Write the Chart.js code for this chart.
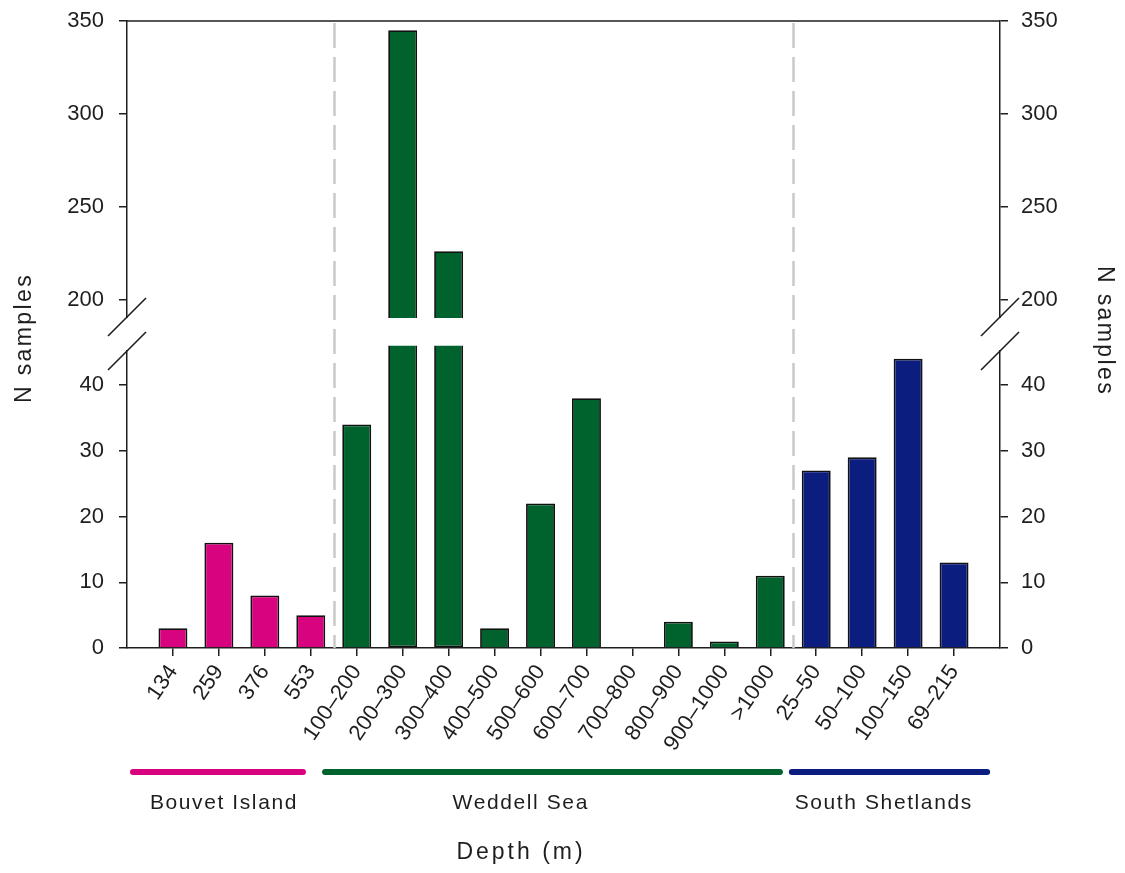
<!DOCTYPE html>
<html>
<head>
<meta charset="utf-8">
<title>N samples by depth</title>
<script src="https://cdn.jsdelivr.net/npm/chart.js@4.4.1/dist/chart.umd.min.js"></script>
<style>
  html, body { margin: 0; padding: 0; background: #ffffff; }
  #wrap { width: 1125px; height: 873px; }
</style>
</head>
<body>
<div id="wrap"><canvas id="c" width="1125" height="873"></canvas></div>
<script>
// Depth classes (m), in plotting order
const depthLabels = ['134', '259', '376', '553',
  '100–200', '200–300', '300–400', '400–500', '500–600', '600–700',
  '700–800', '800–900', '900–1000', '>1000',
  '25–50', '50–100', '100–150', '69–215'];

// Number of samples per depth class
const sampleCounts = [3, 16, 8, 5,
  34, 345, 226, 3, 22, 38, 0, 4, 1, 11,
  27, 29, 44, 13];

// Regions and how many depth classes belong to each
const regionNames = ['Bouvet Island', 'Weddell Sea', 'South Shetlands'];
const regionSizes = [4, 10, 4];

// Tick labels of the two axis segments
const lowerTicks = [0, 10, 20, 30, 40];
const upperTicks = [200, 250, 300, 350];

// Axis break: lower segment is cut at LOW_CUT, upper segment starts at HIGH_FLOOR
const LOW_CUT = 46;
const HIGH_FLOOR = 190;

// ---- styling ----
const FONT = '"Liberation Sans", Arial, Helvetica, sans-serif';
const INK = '#1e1e1e';
const regionColors = ['#d8037f', '#00632e', '#0c1d80'];

function regionOf(i) {
  let acc = 0;
  for (let r = 0; r < regionSizes.length; r++) {
    acc += regionSizes[r];
    if (i < acc) return r;
  }
  return regionSizes.length - 1;
}
const barColors = sampleCounts.map((_, i) => regionColors[regionOf(i)]);

const lowerBars = sampleCounts.map((v, i) => ({ x: i, y: v > 0 ? [0, Math.min(v, LOW_CUT)] : null }));
const upperBars = sampleCounts.map((v, i) => ({ x: i, y: v > HIGH_FLOOR ? [HIGH_FLOOR, v] : null }));

function yAxis(position, stack, weight, min, max, ticks, width, pad) {
  return {
    type: 'linear', position, stack, stackWeight: weight, min, max,
    afterBuildTicks: s => { s.ticks = ticks.map(v => ({ value: v })); },
    ticks: { padding: pad, color: INK, font: { family: FONT, size: 22 } },
    grid: { drawOnChartArea: false, drawTicks: true, tickLength: 8, color: INK, lineWidth: 1.5 },
    border: { color: INK, width: 1.5 },
    afterFit: s => {
      s.width = width;
      // the frame position is set by the layout padding alone
      s.paddingTop = 0;
      s.paddingBottom = 0;
    }
  };
}

// Decorations: region separators, frame top, axis breaks, region bars and titles
const decorations = {
  id: 'decorations',
  beforeDatasetsDraw(chart) {
    const { ctx, chartArea, scales: { x } } = chart;
    ctx.save();
    ctx.strokeStyle = '#c9c9c9';
    ctx.lineWidth = 2.5;
    ctx.setLineDash([25, 9]);
    let acc = 0;
    for (let r = 0; r < regionSizes.length - 1; r++) {
      acc += regionSizes[r];
      const px = Math.round(x.getPixelForValue(acc - 0.5)) + 0.5;
      ctx.beginPath();
      ctx.moveTo(px, chartArea.top + 2);
      ctx.lineTo(px, chartArea.bottom);
      ctx.stroke();
    }
    ctx.restore();
  },
  afterDraw(chart) {
    const { ctx, chartArea, scales } = chart;
    const { x, yHigh } = scales;
    ctx.save();

    // top edge of the frame
    ctx.strokeStyle = INK;
    ctx.lineWidth = 1.5;
    ctx.beginPath();
    ctx.moveTo(chartArea.left, chartArea.top);
    ctx.lineTo(chartArea.right, chartArea.top);
    ctx.stroke();

    // axis break marks on both vertical axes
    const yTop = yHigh.bottom - 1;
    const yBot = yHigh.bottom + 33;
    [chartArea.left, chartArea.right].forEach(ax => {
      ctx.fillStyle = '#ffffff';
      ctx.fillRect(ax - 4, yTop + 1, 8, yBot - yTop - 2);
      ctx.strokeStyle = INK;
      ctx.lineWidth = 1.6;
      [yTop, yBot].forEach(yc => {
        ctx.beginPath();
        ctx.moveTo(ax - 19, yc + 19);
        ctx.lineTo(ax + 19, yc - 19);
        ctx.stroke();
      });
    });

    // region bars under the axis
    const spans = [[-0.87, 2.83], [3.31, 13.21], [13.47, 17.72]];
    const labelAt = [1.11, 7.57, 15.47];
    const barY = 772;
    ctx.lineCap = 'round';
    ctx.lineWidth = 6;
    regionNames.forEach((name, r) => {
      ctx.strokeStyle = regionColors[r];
      ctx.beginPath();
      ctx.moveTo(x.getPixelForValue(spans[r][0]), barY);
      ctx.lineTo(x.getPixelForValue(spans[r][1]), barY);
      ctx.stroke();
      ctx.fillStyle = INK;
      ctx.font = '21px ' + FONT;
      ctx.letterSpacing = '1.6px';
      ctx.textAlign = 'center';
      ctx.textBaseline = 'middle';
      ctx.fillText(name, x.getPixelForValue(labelAt[r]), 803);
    });

    // axis titles
    ctx.fillStyle = INK;
    ctx.font = '23px ' + FONT;
    ctx.letterSpacing = '3px';
    ctx.textAlign = 'center';
    ctx.textBaseline = 'middle';
    ctx.fillText('Depth (m)', 521, 853);

    ctx.letterSpacing = '2.4px';
    ctx.save();
    ctx.translate(25, 338);
    ctx.rotate(-Math.PI / 2);
    ctx.fillText('N samples', 0, 0);
    ctx.restore();

    ctx.save();
    ctx.translate(1104, 331);
    ctx.rotate(Math.PI / 2);
    ctx.fillText('N samples', 0, 0);
    ctx.restore();

    ctx.restore();
  }
};

new Chart(document.getElementById('c'), {
  type: 'bar',
  data: {
    datasets: [
      {
        label: 'lower', yAxisID: 'yLow', data: lowerBars, grouped: false,
        backgroundColor: barColors, borderColor: '#111111', borderWidth: 1.8,
        borderSkipped: c => (sampleCounts[c.dataIndex] > LOW_CUT ? 'top' : 'start'),
        barPercentage: 0.63, categoryPercentage: 1
      },
      {
        label: 'upper', yAxisID: 'yHigh', data: upperBars, grouped: false,
        backgroundColor: barColors, borderColor: '#111111', borderWidth: 1.8,
        borderSkipped: 'bottom',
        barPercentage: 0.63, categoryPercentage: 1
      }
    ]
  },
  options: {
    responsive: false,
    devicePixelRatio: 1,
    animation: false,
    layout: { padding: { top: 21, left: 0, right: 0, bottom: 0 } },
    plugins: { legend: { display: false }, tooltip: { enabled: false } },
    scales: {
      x: {
        type: 'linear', min: -1, max: 18, offset: false,
        afterBuildTicks: s => { s.ticks = depthLabels.map((_, i) => ({ value: i })); },
        ticks: {
          autoSkip: false, maxRotation: 56, minRotation: 56, padding: 4,
          color: INK, font: { family: FONT, size: 22 },
          callback: v => (depthLabels[v] !== undefined ? depthLabels[v] : '')
        },
        grid: { offset: false, drawOnChartArea: false, drawTicks: true, tickLength: 8, color: INK, lineWidth: 1.5 },
        border: { color: INK, width: 1.5 },
        afterFit: s => { s.height = 225; }
      },
      yLow: yAxis('left', 'left', 330, 0, 50.2, lowerTicks, 127, 15),
      yHigh: yAxis('left', 'left', 297, HIGH_FLOOR, 350, upperTicks, 127, 15),
      rHigh: yAxis('right', 'right', 297, HIGH_FLOOR, 350, upperTicks, 125, 13),
      rLow: yAxis('right', 'right', 330, 0, 50.2, lowerTicks, 125, 13)
    }
  },
  plugins: [decorations]
});
</script>
</body>
</html>
